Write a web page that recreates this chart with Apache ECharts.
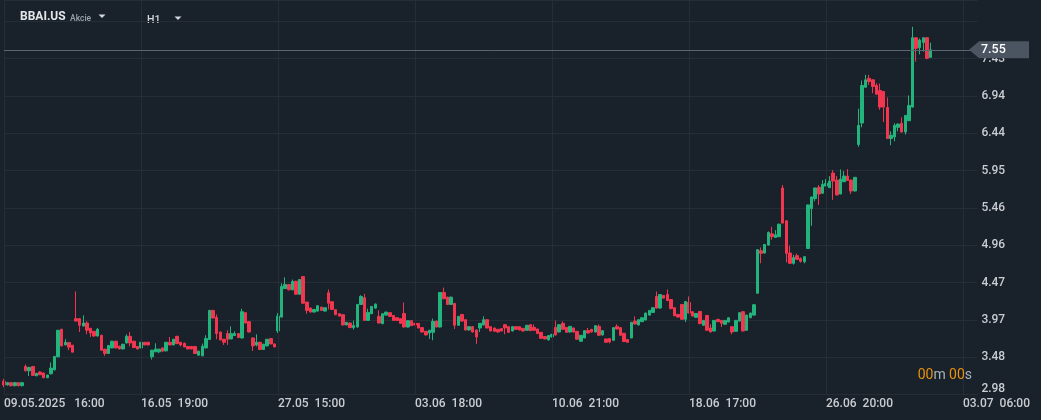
<!DOCTYPE html>
<html>
<head>
<meta charset="utf-8">
<script src="https://cdn.jsdelivr.net/npm/echarts@6/dist/echarts.min.js"></script>
<style>
html,body{margin:0;padding:0;background:#19212a;}
#c{width:1041px;height:420px;}
</style>
</head>
<body>
<div id="c"></div>
<script>
// ---- DATA ----
const symbol = 'BBAI.US';
const assetType = 'Akcie';
const timeframe = 'H1';
const lastPrice = 7.55;
const tickLabels = ['09.05.2025   16:00','16.05  19:00','27.05  15:00','03.06  18:00','10.06  21:00','18.06  17:00','26.06  20:00','03.07  06:00'];
const barsPerLabel = 38;
const totalSlots = 271;
const yMin = 2.983, yStep = 0.4944, yMax = 8.21;

const opens = [3.16,3.11,3.14,3.10,3.14,3.10,3.355,3.297,3.355,3.231,3.280,3.267,3.205,3.257,3.310,3.482,3.847,3.640,3.672,3.636,
3.988,3.988,3.890,3.930,3.860,3.820,3.758,3.768,3.583,3.526,3.600,3.689,3.623,3.587,3.666,3.754,3.689,3.620,3.600,3.675,
3.675,3.482,3.548,3.548,3.600,3.561,3.675,3.640,3.754,3.675,3.662,3.620,3.620,3.620,3.504,3.495,3.600,3.711,4.097,4.005,
3.811,3.715,3.790,3.719,3.764,3.790,3.732,4.067,3.948,3.732,3.640,3.675,3.579,3.627,3.724,3.653,3.824,4.009,4.387,4.440,
4.370,4.484,4.312,4.545,4.207,4.128,4.075,4.088,4.141,4.088,4.331,4.212,4.106,4.053,4.040,3.904,3.930,3.869,3.877,4.176,
4.265,3.965,4.053,4.128,4.018,3.922,4.035,4.067,4.031,4.000,3.988,4.057,3.877,3.961,3.926,3.926,3.869,3.820,3.798,3.807,
3.956,3.877,4.335,4.273,4.176,4.190,3.900,4.044,3.974,3.838,3.882,3.838,3.864,3.904,3.974,3.882,3.864,3.847,3.856,3.908,
3.882,3.824,3.882,3.882,3.860,3.834,3.908,3.873,3.851,3.807,3.751,3.706,3.745,3.873,3.811,3.926,3.873,3.811,3.864,3.820,
3.689,3.732,3.829,3.847,3.811,3.886,3.772,3.719,3.724,3.702,3.886,3.869,3.794,3.711,3.732,3.956,3.904,3.948,3.970,4.035,
4.071,4.282,4.128,4.295,4.308,4.242,4.133,4.044,4.176,3.979,4.203,4.080,4.005,4.084,3.900,4.031,3.864,3.824,3.979,3.965,
3.913,3.943,3.882,3.820,3.956,4.080,3.834,4.000,4.035,4.325,4.888,4.858,4.963,5.112,5.064,5.073,5.719,5.284,4.858,4.721,
4.822,4.783,4.743,4.918,5.446,5.578,5.728,5.649,5.745,5.723,5.917,5.824,5.640,5.802,5.877,5.824,5.679,6.295,6.580,7.054,
7.173,7.152,7.077,7.011,6.998,6.787,6.374,6.396,6.523,6.576,6.461,6.611,6.791,7.710,7.578,7.648,7.710,7.450];

const closes = [3.11,3.14,3.10,3.14,3.10,3.14,3.297,3.342,3.236,3.263,3.245,3.205,3.240,3.333,3.487,3.834,3.627,3.675,3.610,3.544,
3.956,3.900,3.930,3.834,3.798,3.758,3.847,3.570,3.526,3.632,3.689,3.600,3.587,3.649,3.754,3.666,3.605,3.587,3.675,3.640,
3.640,3.570,3.587,3.583,3.557,3.675,3.640,3.715,3.658,3.640,3.613,3.587,3.587,3.526,3.557,3.623,3.724,4.097,3.996,3.790,
3.706,3.675,3.715,3.790,3.790,3.737,4.080,3.930,3.811,3.627,3.675,3.579,3.649,3.715,3.653,3.613,4.022,4.414,4.440,4.370,
4.480,4.312,4.506,4.193,4.097,4.075,4.110,4.159,4.097,4.133,4.193,4.110,4.040,4.022,3.904,3.939,3.869,3.896,4.176,4.282,
3.965,4.071,4.150,4.180,3.930,4.053,4.075,4.018,3.965,3.965,3.926,3.877,3.961,3.895,3.904,3.864,3.811,3.772,3.834,3.952,
3.877,4.335,4.252,4.176,4.273,3.900,4.018,3.956,3.838,3.882,3.811,3.745,3.926,3.974,3.864,3.824,3.820,3.811,3.824,3.864,
3.807,3.882,3.847,3.838,3.824,3.900,3.829,3.834,3.790,3.728,3.719,3.764,3.781,3.772,3.908,3.847,3.807,3.886,3.811,3.715,
3.768,3.829,3.798,3.811,3.895,3.768,3.829,3.675,3.680,3.869,3.851,3.768,3.684,3.675,3.939,3.917,3.974,4.000,4.062,4.097,
4.133,4.128,4.308,4.260,4.229,4.120,4.027,4.009,3.979,4.216,4.062,4.022,4.057,3.922,3.965,3.834,3.811,3.965,3.948,3.926,
3.965,4.000,3.811,3.965,4.067,3.824,4.035,4.062,4.172,4.901,4.853,4.971,5.130,5.073,5.099,5.240,5.254,4.853,4.721,4.796,
4.774,4.747,4.809,5.495,5.600,5.719,5.640,5.767,5.781,5.811,5.811,5.627,5.837,5.877,5.820,5.679,5.860,6.549,7.077,7.152,
7.130,7.064,6.962,6.791,6.791,6.374,6.418,6.549,6.567,6.461,6.681,6.813,7.710,7.569,7.679,7.710,7.437,7.550];

const lows = [3.08,3.10,3.09,3.09,3.09,3.09,3.29,3.227,3.23,3.225,3.24,3.20,3.20,3.25,3.30,3.475,3.62,3.635,3.570,3.54,
3.95,3.811,3.885,3.781,3.745,3.75,3.75,3.565,3.495,3.52,3.595,3.595,3.58,3.58,3.66,3.623,3.60,3.58,3.595,3.635,
3.635,3.447,3.545,3.530,3.55,3.555,3.635,3.635,3.65,3.62,3.61,3.58,3.58,3.52,3.50,3.49,3.595,3.705,3.99,3.715,
3.70,3.640,3.640,3.715,3.76,3.73,3.725,3.925,3.805,3.561,3.62,3.575,3.575,3.62,3.65,3.61,3.798,4.00,4.38,4.362,
4.365,4.305,4.305,4.185,4.053,4.07,4.07,4.08,4.09,4.085,4.110,4.105,4.035,4.015,3.90,3.90,3.865,3.843,3.87,4.17,
3.96,3.96,4.05,4.12,3.925,3.915,4.03,4.012,3.96,3.96,3.92,3.87,3.87,3.89,3.90,3.86,3.805,3.765,3.719,3.702,
3.87,3.87,4.245,4.17,4.17,3.851,3.895,3.95,3.83,3.83,3.805,3.653,3.811,3.90,3.86,3.82,3.815,3.805,3.82,3.781,
3.80,3.82,3.84,3.835,3.82,3.83,3.825,3.83,3.785,3.72,3.715,3.70,3.74,3.765,3.805,3.84,3.80,3.805,3.805,3.71,
3.685,3.728,3.79,3.805,3.805,3.76,3.765,3.67,3.66,3.695,3.845,3.76,3.68,3.67,3.728,3.91,3.90,3.945,3.965,4.03,
4.065,4.12,4.12,4.255,4.22,4.115,4.02,4.005,3.975,3.943,4.055,4.018,4.00,3.915,3.895,3.83,3.805,3.82,3.945,3.877,
3.91,3.94,3.781,3.815,3.95,3.82,3.83,3.995,4.03,4.32,4.721,4.85,4.955,5.033,5.06,5.07,5.25,4.734,4.715,4.704,
4.77,4.73,4.721,4.91,5.218,5.543,5.495,5.645,5.74,5.72,5.561,5.62,5.635,5.80,5.815,5.640,5.675,6.264,6.523,7.05,
7.086,6.975,6.955,6.756,6.593,6.37,6.286,6.338,6.471,6.455,6.427,6.605,6.785,7.393,7.490,7.525,7.424,7.445];

const highs = [3.19,3.15,3.15,3.15,3.15,3.15,3.381,3.35,3.36,3.27,3.29,3.275,3.245,3.408,3.495,3.84,3.855,3.715,3.68,3.64,
4.348,3.995,4.031,3.952,3.865,3.825,3.864,3.775,3.59,3.64,3.695,3.695,3.63,3.655,3.781,3.811,3.695,3.625,3.68,3.68,
3.68,3.575,3.662,3.59,3.605,3.68,3.745,3.72,3.76,3.68,3.67,3.625,3.625,3.625,3.565,3.658,3.768,4.105,4.105,4.044,
3.815,3.72,3.834,3.886,3.820,3.795,4.120,4.075,3.955,3.74,3.781,3.68,3.655,3.72,3.73,3.66,4.062,4.457,4.536,4.445,
4.506,4.49,4.51,4.55,4.21,4.135,4.115,4.165,4.145,4.14,4.374,4.215,4.11,4.06,4.045,3.945,3.935,3.962,4.18,4.299,
4.317,4.120,4.155,4.19,4.097,4.06,4.08,4.07,4.035,4.005,3.99,4.203,3.965,3.965,3.93,3.93,3.875,3.825,3.84,3.988,
3.96,4.34,4.400,4.28,4.28,4.195,4.025,4.05,3.98,3.89,3.89,3.845,3.93,4.018,3.98,3.89,3.87,3.85,3.86,3.915,
3.885,3.885,3.885,3.885,3.865,3.905,3.91,3.913,3.855,3.81,3.755,3.77,3.785,3.961,3.91,3.952,3.875,3.89,3.87,3.825,
3.772,3.835,3.864,3.85,3.90,3.913,3.835,3.725,3.73,3.875,3.913,3.875,3.80,3.715,3.945,4.018,3.98,4.005,4.068,4.10,
4.138,4.348,4.312,4.30,4.374,4.248,4.138,4.05,4.18,4.22,4.282,4.085,4.06,4.09,3.97,4.035,3.913,3.97,3.985,3.97,
3.97,4.005,3.885,3.97,4.07,4.085,4.04,4.068,4.178,4.91,4.932,4.975,5.143,5.205,5.161,5.245,5.758,5.29,4.954,4.835,
4.849,4.80,4.815,5.50,5.605,5.725,5.758,5.824,5.837,5.877,5.956,5.877,5.965,5.943,5.969,5.83,5.865,6.770,7.143,7.218,
7.218,7.16,7.107,7.103,7.005,6.919,6.471,6.576,6.572,6.655,6.686,6.945,7.855,7.715,7.70,7.715,7.715,7.644];

// ---- CHART ----
const categories = Array.from({length: totalSlots}, (_, i) =>
  i % barsPerLabel === 0 ? tickLabels[i / barsPerLabel] : String(i));
const candles = opens.map((o, i) => [o, closes[i], lows[i], highs[i]]);

const UP = '#22b47c', DOWN = '#f2364f';
const GRIDC = '#252d35';
const TXT = '#c9cdd2';
const FONT = 'Roboto, "Noto Sans", sans-serif';
const atLabel = (i) => i % barsPerLabel === 0;

const chart = echarts.init(document.getElementById('c'), null, {renderer: 'canvas'});
const option = {
  backgroundColor: '#19212a',
  animation: false,
  grid: {left: 4, right: 63.6, top: -2, bottom: 25.5, containLabel: false},
  xAxis: {
    type: 'category',
    data: categories,
    boundaryGap: false,
    axisLine: {show: true, lineStyle: {color: GRIDC}},
    axisTick: {show: false, interval: atLabel},
    axisLabel: {
      interval: atLabel,
      align: 'left',
      margin: 3,
      hideOverlap: false,
      color: TXT, fontFamily: FONT, fontSize: 12, fontWeight: 500,
      formatter: (v, i) => (atLabel(i) ? v : '')
    },
    splitLine: {show: false}
  },
  yAxis: {
    type: 'value',
    position: 'right',
    min: yMin, max: yMax, interval: yStep,
    axisLine: {show: false},
    axisTick: {show: false},
    splitLine: {show: true, lineStyle: {color: GRIDC, width: 1}},
    axisLabel: {
      margin: 4,
      color: TXT, fontFamily: FONT, fontSize: 12, fontWeight: 500,
      formatter: (v) => {
        if (v > 7.9) return '';
        const s = v.toFixed(2);
        return Math.abs(v - yMin) < 1e-6 ? '{lo|' + s + '}' : s;
      },
      rich: {lo: {color: TXT, fontFamily: FONT, fontSize: 12, fontWeight: 500, padding: [0, 0, 11, 0]}}
    }
  },
  series: [
    {
      // vertical grid lines at the labelled time slots
      type: 'line',
      data: [],
      z: 1,
      silent: true,
      markLine: {
        silent: true,
        symbol: ['none', 'none'],
        label: {show: false},
        lineStyle: {color: GRIDC, type: 'solid', width: 1},
        data: tickLabels.map((t) => ({xAxis: t}))
      }
    },
    {
      type: 'candlestick',
      data: candles,
      z: 2,
      barWidth: 3,
      clip: false,
      itemStyle: {color: UP, color0: DOWN, borderColor: UP, borderColor0: DOWN, borderWidth: 1},
      markLine: {
        silent: true,
        symbol: ['none', 'none'],
        label: {show: false},
        lineStyle: {color: '#5b6671', type: 'solid', width: 1},
        data: [{yAxis: lastPrice}]
      }
    }
  ],
  graphic: [
    {type: 'text', left: 20, top: 11, style: {text: symbol, fill: '#e3e6e9', font: 'bold 12px ' + FONT}},
    {type: 'text', left: 70, top: 14.5, style: {text: assetType, fill: '#9aa3ac', font: '500 8.5px ' + FONT}},
    {type: 'polygon', shape: {points: [[98.5, 14.5], [105.5, 14.5], [102, 18]]}, style: {fill: '#d4d8dc'}},
    {type: 'text', left: 147, top: 15, style: {text: timeframe, fill: '#d4d8dc', font: '500 10.5px ' + FONT}},
    {type: 'polygon', shape: {points: [[174.5, 16.5], [181.5, 16.5], [178, 20]]}, style: {fill: '#d4d8dc'}}
  ]
};
chart.setOption(option);

// price tag & countdown placed from the axis scale
const py = chart.convertToPixel({yAxisIndex: 0}, lastPrice);
chart.setOption({
  graphic: option.graphic.concat([
    {type: 'polygon', z: 100,
     shape: {points: [[969, py], [979, py - 8.5], [1029, py - 8.5], [1029, py + 8.5], [979, py + 8.5]]},
     style: {fill: '#4a5561'}},
    {type: 'text', z: 101, x: 981, y: py,
     style: {text: lastPrice.toFixed(2), fill: '#ffffff', font: '500 12.5px ' + FONT, verticalAlign: 'middle', textAlign: 'left'}},
    {type: 'text', z: 101, x: 972, y: 375,
     style: {
       text: '{o|00}{g|m} {o|00}{g|s}',
       textAlign: 'right', verticalAlign: 'middle',
       rich: {
         o: {fill: '#ec910d', fontFamily: FONT, fontSize: 14},
         g: {fill: '#a9b1b9', fontFamily: FONT, fontSize: 14}
       }
     }}
  ])
});
</script>
</body>
</html>
